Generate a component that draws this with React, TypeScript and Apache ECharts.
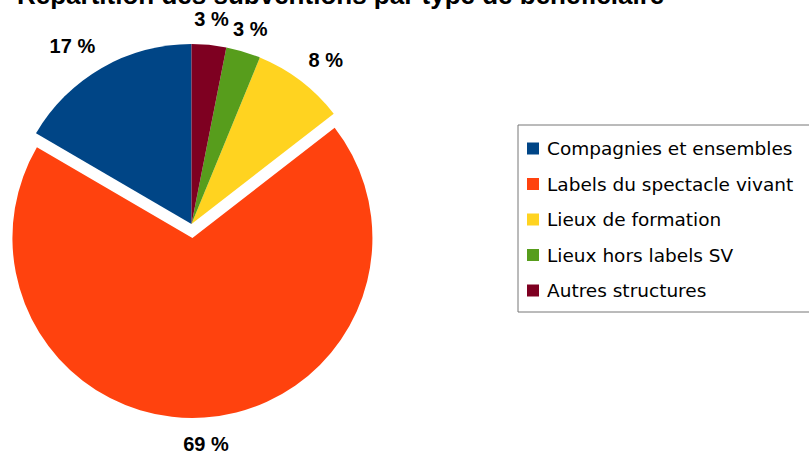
import React, { useEffect, useRef } from "react";
import * as echarts from "echarts";

const titleText = "Répartition des subventions par type de bénéficiaire";
const categories = [
  "Compagnies et ensembles",
  "Labels du spectacle vivant",
  "Lieux de formation",
  "Lieux hors labels SV",
  "Autres structures",
];
const values = [16.6, 68.9, 8.3, 3.1, 3.1];
const colors = ["#004586", "#ff420e", "#ffd320", "#579d1c", "#7e0021"];
const explodedIndex = 1;

export default function App() {
  const ref = useRef<HTMLDivElement>(null);
  useEffect(() => {
    if (!ref.current) return;
    const chart = echarts.init(ref.current, undefined, { renderer: "svg" });
    // label placement tuning (distance from rim, small nudges)
    const labelDistances = [33, 26, 32, 24, 26];
    const labelNudges: [number, number][] = [
      [-13, 7],
      [0, 0],
      [6, 5],
      [0, 0],
      [0, 0],
    ];
    const data = categories.map((name, i) => ({
      name,
      value: values[i],
      selected: i === explodedIndex,
      itemStyle: { color: colors[i] },
      labelLine: { show: false, length: labelDistances[i], length2: 0 },
    }));
    chart.setOption({
      animation: false,
      backgroundColor: "#ffffff",
      title: {
        text: titleText,
        left: 17,
        top: -18,
        padding: 0,
        textStyle: {
          fontFamily: "Liberation Sans",
          fontSize: 26,
          fontWeight: "bold",
          color: "#000000",
        },
      },
      legend: {
        orient: "vertical",
        left: 518,
        top: 125,
        padding: [14, 20, 12, 9],
        itemGap: 16.5,
        itemWidth: 12,
        itemHeight: 12,
        icon: "rect",
        borderColor: "#777777",
        borderWidth: 1,
        selectedMode: false,
        textStyle: {
          fontFamily: "DejaVu Sans",
          fontSize: 18.5,
          color: "#000000",
          padding: [0, 0, 0, 3],
        },
        data: categories,
      },
      series: [
        {
          type: "pie",
          center: [191.5, 224],
          radius: 180,
          startAngle: 90,
          clockwise: false,
          selectedMode: "single",
          selectedOffset: 14,
          avoidLabelOverlap: false,
          emphasis: { disabled: true },
          select: { itemStyle: { borderWidth: 0 } },
          itemStyle: { borderWidth: 0 },
          label: {
            show: true,
            position: "outside",
            distanceToLabelLine: 0,
            formatter: (p: any) => Math.round(p.percent) + " %",
            fontFamily: "Liberation Sans",
            fontSize: 20,
            fontWeight: "bold",
            color: "#000000",
          },
          labelLayout: (p: any) => ({
            align: "center",
            verticalAlign: "middle",
            dx: labelNudges[p.dataIndex][0],
            dy: labelNudges[p.dataIndex][1],
          }),
          data,
        },
      ],
    });
    return () => chart.dispose();
  }, []);
  return (
    <div
      ref={ref}
      style={{ position: "fixed", left: 0, top: 0, width: 809, height: 455 }}
    />
  );
}
